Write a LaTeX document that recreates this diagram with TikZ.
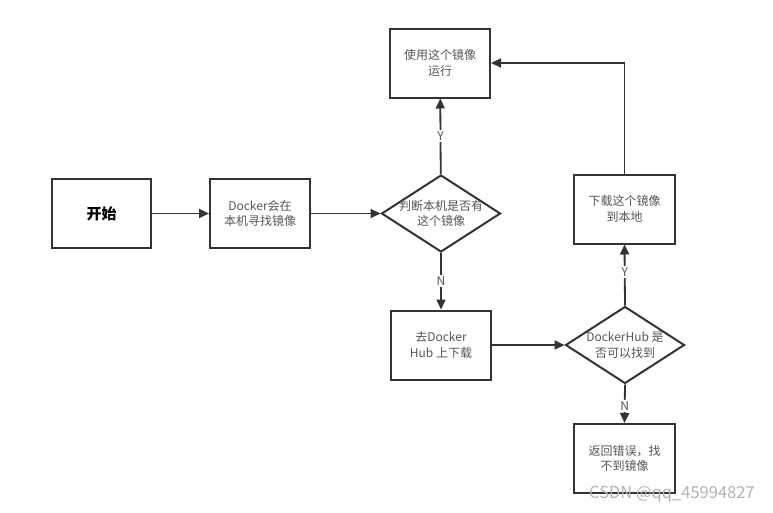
\documentclass[tikz,border=0pt]{standalone}
\usepackage{fontspec}
\setmainfont{Noto Sans CJK SC}
\usetikzlibrary{shapes.geometric,arrows.meta}
\definecolor{edge}{HTML}{333333}
\definecolor{txt}{HTML}{555555}
\begin{document}
\begin{tikzpicture}[x=1pt,y=-1pt,
  box/.style={draw=edge,line width=2pt,minimum width=100pt,minimum height=69pt,inner sep=0pt,
    text=txt,font=\fontsize{12}{15.5}\selectfont,align=center},
  dia/.style={draw=edge,line width=2pt,diamond,minimum width=119pt,minimum height=77pt,aspect=1.54,inner sep=0pt},
  dtext/.style={text=txt,font=\fontsize{12}{15.5}\selectfont,align=center,inner sep=0pt},
  arr/.style={draw=edge,line width=1.8pt,-{Triangle[length=10pt,width=9pt]}},
  lbl/.style={fill=white,text=txt,font=\fontsize{12}{14}\selectfont,inner sep=1.5pt}]
\useasboundingbox (0,0) rectangle (773,512);
\node[box,minimum width=99pt,text=black,font=\fontsize{15}{18}\bfseries\selectfont] (start) at (101.5,213.5) {开始};
\node[box] (local) at (260,213.5) {Docker会在\\本机寻找镜像};
\node[dia] (d1) at (441,213.5) {};
\node[dtext] (d1t) at (d1.center) {判断本机是否有\\这个镜像};
\node[box] (run) at (440,63) {使用这个镜像\\运行};
\node[box,minimum width=101pt] (dl) at (624.5,209) {下载这个镜像\\到本地};
\node[box] (hub) at (441,345) {去Docker\\Hub 上下载};
\node[dia] (d2) at (625,345) {};
\node[dtext] (d2t) at (d2.center) {DockerHub 是\\否可以找到};
\node[box,minimum width=101pt] (err) at (624.5,458.5) {返回错误，找\\不到镜像};
\draw[arr] (start) -- (local);
\draw[arr] (local) -- (d1);
\draw[arr] (d1) -- node[lbl] (ly1) {Y} (run);
\draw[arr] (d1) -- node[lbl] (ln1) {N} (hub);
\draw[arr] (hub) -- (d2);
\draw[arr] (d2.north) -- node[lbl,pos=0.55] (ly2) {Y} (dl.south);
\draw[arr] (d2.south) -- node[lbl,pos=0.55] (ln2) {N} (err.north);
\draw[arr] (dl.north) |- (run.east);
\node[text=gray!60,font=\fontsize{16.5}{18}\selectfont,anchor=west,inner sep=0pt] (wm) at (589,494) {CSDN @qq\_45994827};
\end{tikzpicture}
\end{document}
